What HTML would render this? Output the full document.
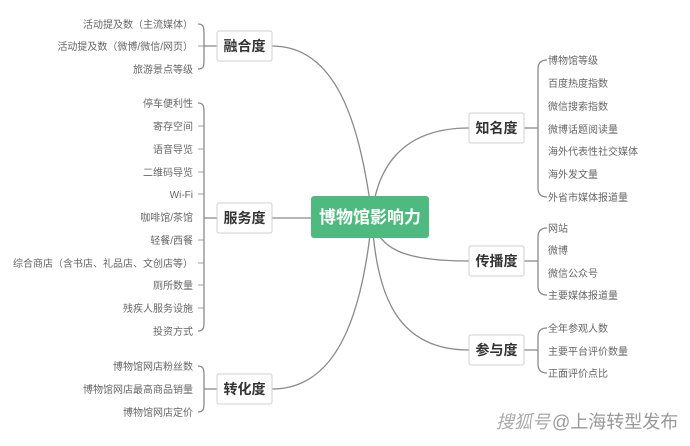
<!DOCTYPE html>
<html><head><meta charset="utf-8"><style>
body{margin:0;width:690px;height:441px;background:#fff;overflow:hidden;font-family:"Liberation Sans","Noto Sans CJK SC",sans-serif}
</style></head><body>
<svg width="690" height="441" xmlns="http://www.w3.org/2000/svg" font-family="Liberation Sans, Noto Sans CJK SC, sans-serif">
<g fill="none" stroke="#8a8a8a" stroke-width="1.3">
<path d="M272,46 C335,46 360,120 372,217"/>
<path d="M272,218 L311,218"/>
<path d="M272,389 C335,389 362,320 372,217"/>
<path d="M469,128 C400,128 376,170 372,217"/>
<path d="M469,261 C405,261 378,250 372,217"/>
<path d="M469,350 C400,350 376,300 372,217"/>
<path d="M198,24 C204,24 204,28 204,34 L204,60 C204,66 204,69 198,69"/><path d="M204,46 L217,46"/>
<path d="M198,103 C204,103 204,107 204,113 L204,321 C204,327 204,331 198,331"/><path d="M204,218 L217,218"/>
<path d="M198,366 C204,366 204,370 204,376 L204,402 C204,408 204,412 198,412"/><path d="M204,389 L217,389"/>
<g stroke-width="0.8"><path d="M198,46 L204,46"/><path d="M198,126 L204,126"/><path d="M198,149 L204,149"/><path d="M198,172 L204,172"/><path d="M198,194 L204,194"/><path d="M198,240 L204,240"/><path d="M198,263 L204,263"/><path d="M198,285 L204,285"/><path d="M198,308 L204,308"/></g>
<path d="M547,60 C541,60 538,63 538,69 L538,188 C538,194 541,197 547,197"/><path d="M524,128 L538,128"/>
<path d="M547,228 C541,228 538,231 538,237 L538,286 C538,292 541,295 547,295"/><path d="M524,261 L538,261"/>
<path d="M547,328 C541,328 538,331 538,337 L538,364 C538,370 541,373 547,373"/><path d="M524,350 L538,350"/>
</g>
<g fill="#fff" stroke="#d0d0d0" stroke-width="1">
<rect x="217" y="31" width="55" height="30" rx="2"/>
<rect x="217" y="203" width="55" height="30" rx="2"/>
<rect x="217" y="374" width="55" height="30" rx="2"/>
<rect x="469" y="113" width="55" height="30" rx="2"/>
<rect x="469" y="246" width="55" height="30" rx="2"/>
<rect x="469" y="335" width="55" height="30" rx="2"/>
</g>
<rect x="311" y="196" width="118" height="42" rx="3" fill="#4fba7f"/>
<text x="370" y="223" font-size="17" font-weight="bold" fill="#fff" text-anchor="middle">博物馆影响力</text>
<g font-size="14" font-weight="bold" fill="#333" text-anchor="middle">
<text x="244.5" y="51">融合度</text><text x="244.5" y="223">服务度</text><text x="244.5" y="394">转化度</text>
<text x="496.5" y="133">知名度</text><text x="496.5" y="266">传播度</text><text x="496.5" y="355">参与度</text>
</g>
<g font-size="10" fill="#666" text-anchor="end">
<text x="193" y="28">活动提及数（主流媒体）</text>
<text x="193" y="50">活动提及数（微博/微信/网页）</text>
<text x="193" y="73">旅游景点等级</text>
<text x="193" y="107">停车便利性</text>
<text x="193" y="130">寄存空间</text>
<text x="193" y="153">语音导览</text>
<text x="193" y="176">二维码导览</text>
<text x="193" y="198">Wi-Fi</text>
<text x="193" y="221">咖啡馆/茶馆</text>
<text x="193" y="244">轻餐/西餐</text>
<text x="193" y="267">综合商店（含书店、礼品店、文创店等）</text>
<text x="193" y="289">厕所数量</text>
<text x="193" y="312">残疾人服务设施</text>
<text x="193" y="335">投资方式</text>
<text x="193" y="370">博物馆网店粉丝数</text>
<text x="193" y="393">博物馆网店最高商品销量</text>
<text x="193" y="416">博物馆网店定价</text>
</g>
<g font-size="10" fill="#666">
<text x="548" y="64">博物馆等级</text>
<text x="548" y="87">百度热度指数</text>
<text x="548" y="110">微信搜索指数</text>
<text x="548" y="133">微博话题阅读量</text>
<text x="548" y="155">海外代表性社交媒体</text>
<text x="548" y="178">海外发文量</text>
<text x="548" y="201">外省市媒体报道量</text>
<text x="548" y="232">网站</text>
<text x="548" y="254">微博</text>
<text x="548" y="277">微信公众号</text>
<text x="548" y="299">主要媒体报道量</text>
<text x="548" y="332">全年参观人数</text>
<text x="548" y="355">主要平台评价数量</text>
<text x="548" y="377">正面评价点比</text>
</g>
<text x="496" y="428" font-size="18" fill="#aaa" font-style="italic">搜狐号</text>
<text x="552" y="428" font-size="18" fill="#999">@上海转型发布</text>
</svg>
</body></html>
